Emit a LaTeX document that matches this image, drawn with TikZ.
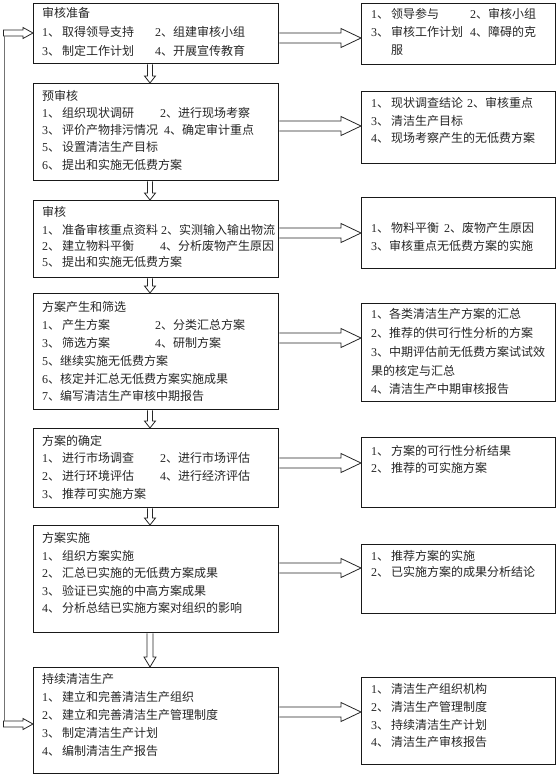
\documentclass[tikz,border=0pt]{standalone}
\usepackage{fontspec}
\newfontfamily\cjk{Noto Sans CJK SC}
\newfontfamily\lat{Liberation Serif}
\usetikzlibrary{calc}
\newcommand\itm[2]{\makebox[20pt][l]{{\lat #1}、}#2}
\newcommand\itn[2]{{\lat #1}、#2}
% hollow arrow: tail coord, tip coord, half shaft, half head, head length
\newcommand\rharrow[5]{%
  \draw[harr] let \p1=(#1), \p2=(#2) in
    (\x1,\y1+#3pt) -- (\x2-#5pt,\y1+#3pt) -- (\x2-#5pt,\y1+#4pt) -- (\x2,\y1)
    -- (\x2-#5pt,\y1-#4pt) -- (\x2-#5pt,\y1-#3pt) -- (\x1,\y1-#3pt);}
\newcommand\dharrow[5]{%
  \draw[harr] let \p1=(#1), \p2=(#2) in
    (\x1-#3pt,\y1) -- (\x1-#3pt,\y2+#5pt) -- (\x1-#4pt,\y2+#5pt) -- (\x1,\y2)
    -- (\x1+#4pt,\y2+#5pt) -- (\x1+#3pt,\y2+#5pt) -- (\x1+#3pt,\y1);}
\begin{document}
\begin{tikzpicture}[x=1pt,y=-1pt,
  box/.style={draw=black!90, line width=1.3pt, anchor=north west, inner sep=0pt},
  tx/.style={anchor=west, inner sep=0pt, text=black!85,
    font=\cjk\fontsize{12}{14}\selectfont, text height=9.5pt, text depth=2pt},
  harr/.style={draw=black!85, line width=0.8pt},
  fbline/.style={draw=black!55, line width=0.9pt}]
\useasboundingbox[fill=white] (0,0) rectangle (558,777);

% left boxes
\node[box, minimum width=245, minimum height=60]  (L1) at (33,3) {};
\node[box, minimum width=245, minimum height=97]  (L2) at (33,83) {};
\node[box, minimum width=245, minimum height=77]  (L3) at (33,200) {};
\node[box, minimum width=245, minimum height=116] (L4) at (33,293) {};
\node[box, minimum width=245, minimum height=79]  (L5) at (33,428) {};
\node[box, minimum width=245, minimum height=107] (L6) at (33,525) {};
\node[box, minimum width=245, minimum height=106] (L7) at (33,667) {};
% right boxes
\node[box, minimum width=194, minimum height=61] (R1) at (361,3) {};
\node[box, minimum width=194, minimum height=72] (R2) at (361,91) {};
\node[box, minimum width=194, minimum height=71] (R3) at (361,197) {};
\node[box, minimum width=194, minimum height=98] (R4) at (361,303) {};
\node[box, minimum width=194, minimum height=70] (R5) at (361,437) {};
\node[box, minimum width=194, minimum height=69] (R6) at (361,544) {};
\node[box, minimum width=194, minimum height=87] (R7) at (361,677) {};

% L1 text
\node[tx] (l1t) at (42,14) {审核准备};
\node[tx] (l1a) at (42,33) {\itm{1}{取得领导支持}};
\node[tx] (l1b) at (155,33) {\itn{2}{组建审核小组}};
\node[tx] (l1c) at (42,52) {\itm{3}{制定工作计划}};
\node[tx] (l1d) at (155,52) {\itn{4}{开展宣传教育}};
% L2
\node[tx] (l2t) at (42,97) {预审核};
\node[tx] (l2a) at (42,114) {\itm{1}{组织现状调研}};
\node[tx] (l2b) at (160,114) {\itn{2}{进行现场考察}};
\node[tx] (l2c) at (42,131) {\itm{3}{评价产物排污情况}};
\node[tx] (l2d) at (164,131) {\itn{4}{确定审计重点}};
\node[tx] (l2e) at (42,148) {\itm{5}{设置清洁生产目标}};
\node[tx] (l2f) at (42,166) {\itm{6}{提出和实施无低费方案}};
% L3
\node[tx] (l3t) at (42,213) {审核};
\node[tx] (l3a) at (42,231) {\itm{1}{准备审核重点资料}};
\node[tx] (l3b) at (161,231) {\itn{2}{实测输入输出物流}};
\node[tx] (l3c) at (42,247) {\itm{2}{建立物料平衡}};
\node[tx] (l3d) at (160,247) {\itn{4}{分析废物产生原因}};
\node[tx] (l3e) at (42,263) {\itm{5}{提出和实施无低费方案}};
% L4
\node[tx] (l4t) at (42,308) {方案产生和筛选};
\node[tx] (l4a) at (42,326) {\itm{1}{产生方案}};
\node[tx] (l4b) at (155,326) {\itn{2}{分类汇总方案}};
\node[tx] (l4c) at (42,344) {\itm{3}{筛选方案}};
\node[tx] (l4d) at (155,344) {\itn{4}{研制方案}};
\node[tx] (l4e) at (42,362) {\itn{5}{继续实施无低费方案}};
\node[tx] (l4f) at (42,380) {\itn{6}{核定并汇总无低费方案实施成果}};
\node[tx] (l4g) at (42,397) {\itn{7}{编写清洁生产审核中期报告}};
% L5
\node[tx] (l5t) at (42,442) {方案的确定};
\node[tx] (l5a) at (42,459) {\itm{1}{进行市场调查}};
\node[tx] (l5b) at (160,459) {\itn{2}{进行市场评估}};
\node[tx] (l5c) at (42,477) {\itm{2}{进行环境评估}};
\node[tx] (l5d) at (160,477) {\itn{4}{进行经济评估}};
\node[tx] (l5e) at (42,495) {\itm{3}{推荐可实施方案}};
% L6
\node[tx] (l6t) at (42,539) {方案实施};
\node[tx] (l6a) at (42,557) {\itm{1}{组织方案实施}};
\node[tx] (l6b) at (42,574) {\itm{2}{汇总已实施的无低费方案成果}};
\node[tx] (l6c) at (42,592) {\itm{3}{验证已实施的中高方案成果}};
\node[tx] (l6d) at (42,609) {\itm{4}{分析总结已实施方案对组织的影响}};
% L7
\node[tx] (l7t) at (42,680) {持续清洁生产};
\node[tx] (l7a) at (42,698) {\itm{1}{建立和完善清洁生产组织}};
\node[tx] (l7b) at (42,716) {\itm{2}{建立和完善清洁生产管理制度}};
\node[tx] (l7c) at (42,734) {\itm{3}{制定清洁生产计划}};
\node[tx] (l7d) at (42,752) {\itm{4}{编制清洁生产报告}};

% R1
\node[tx] (r1a) at (371,15) {\itm{1}{领导参与}};
\node[tx] (r1b) at (470,15) {\itn{2}{审核小组}};
\node[tx] (r1c) at (371,33) {\itm{3}{审核工作计划}};
\node[tx] (r1d) at (470,33) {\itn{4}{障碍的克}};
\node[tx] (r1e) at (391,51) {服};
% R2
\node[tx] (r2a) at (371,104) {\itm{1}{现状调查结论}};
\node[tx] (r2b) at (467,104) {\itn{2}{审核重点}};
\node[tx] (r2c) at (371,122) {\itm{3}{清洁生产目标}};
\node[tx] (r2d) at (371,139) {\itm{4}{现场考察产生的无低费方案}};
% R3
\node[tx] (r3a) at (371,229) {\itm{1}{物料平衡}};
\node[tx] (r3b) at (444,229) {\itn{2}{废物产生原因}};
\node[tx] (r3c) at (371,247) {\itn{3}{审核重点无低费方案的实施}};
% R4
\node[tx] (r4a) at (371,315) {\itn{1}{各类清洁生产方案的汇总}};
\node[tx] (r4b) at (371,334) {\itn{2}{推荐的供可行性分析的方案}};
\node[tx] (r4c) at (371,353) {\itn{3}{中期评估前无低费方案试试效}};
\node[tx] (r4d) at (371,372) {果的核定与汇总};
\node[tx] (r4e) at (371,390) {\itn{4}{清洁生产中期审核报告}};
% R5
\node[tx] (r5a) at (371,452) {\itm{1}{方案的可行性分析结果}};
\node[tx] (r5b) at (371,469) {\itm{2}{推荐的可实施方案}};
% R6
\node[tx] (r6a) at (371,557) {\itm{1}{推荐方案的实施}};
\node[tx] (r6b) at (371,573) {\itm{2}{已实施方案的成果分析结论}};
% R7
\node[tx] (r7a) at (371,690) {\itm{1}{清洁生产组织机构}};
\node[tx] (r7b) at (371,708) {\itm{2}{清洁生产管理制度}};
\node[tx] (r7c) at (371,726) {\itm{3}{持续清洁生产计划}};
\node[tx] (r7d) at (371,743) {\itm{4}{清洁生产审核报告}};

% right hollow arrows
\coordinate (ay1) at (0,38);
\coordinate (ay2) at (0,126);
\coordinate (ay3) at (0,233);
\coordinate (ay4) at (0,338);
\coordinate (ay5) at (0,463);
\coordinate (ay6) at (0,568);
\coordinate (ay7) at (0,712);
\rharrow{L1.east |- ay1}{R1.west |- ay1}{5}{9.5}{20}
\rharrow{L2.east |- ay2}{R2.west |- ay2}{5}{9.5}{20}
\rharrow{L3.east |- ay3}{R3.west |- ay3}{5}{9.5}{20}
\rharrow{L4.east |- ay4}{R4.west |- ay4}{5}{9.5}{20}
\rharrow{L5.east |- ay5}{R5.west |- ay5}{5}{9.5}{20}
\rharrow{L6.east |- ay6}{R6.west |- ay6}{5}{9.5}{20}
\rharrow{L7.east |- ay7}{R7.west |- ay7}{5}{9.5}{20}

% down hollow arrows
\coordinate (dx) at (150,0);
\dharrow{L1.south -| dx}{L2.north -| dx}{2.5}{5.5}{7}
\dharrow{L2.south -| dx}{L3.north -| dx}{2.5}{5.5}{7}
\dharrow{L3.south -| dx}{L4.north -| dx}{2.5}{5.5}{7}
\dharrow{L4.south -| dx}{L5.north -| dx}{2.5}{5.5}{7}
\dharrow{L5.south -| dx}{L6.north -| dx}{2.5}{5.5}{7}
\dharrow{L6.south -| dx}{L7.north -| dx}{3}{6}{10}

% feedback loop
\coordinate (fb1) at (3,33);
\coordinate (fb2) at (3,724);
\rharrow{fb1}{L1.west |- fb1}{3}{5.5}{10}
\draw[harr] (fb1) ++(0,-3) -- ++(0,6);
\rharrow{fb2}{L7.west |- fb2}{3}{5.5}{10}
\draw[harr] (fb2) ++(0,-3) -- ++(0,6);
\draw[fbline] ($(fb1)+(1,3)$) -- ($(fb2)+(1,-3)$);
\end{tikzpicture}
\end{document}
